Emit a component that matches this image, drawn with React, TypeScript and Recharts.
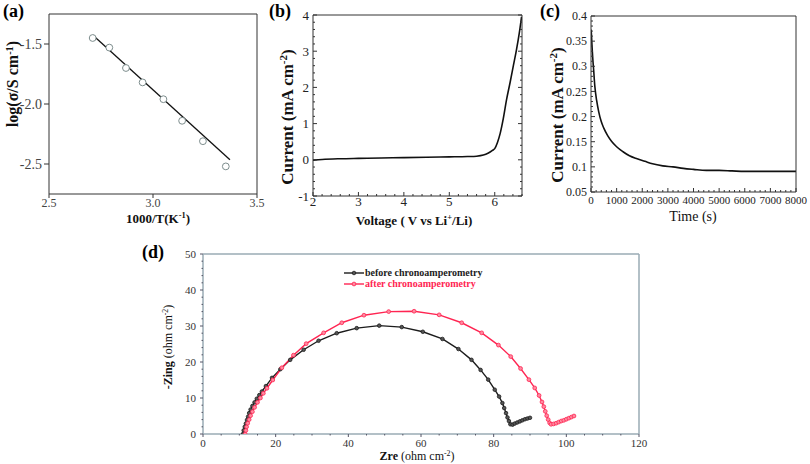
import { LineChart, Line, XAxis, YAxis } from "recharts"

const SERIF = '"Liberation Serif", "Times New Roman", serif'

// (a) log conductivity vs 1000/T
const arrX = [2.71, 2.79, 2.87, 2.95, 3.05, 3.14, 3.24, 3.35]
const arrY = [-1.45, -1.53, -1.7, -1.82, -1.96, -2.14, -2.31, -2.52]
const fitX = [2.71, 3.37]
const fitY = [-1.425, -2.465]

// (b) linear sweep voltammetry
const lsvV = [2.0, 2.2, 2.6, 3.0, 3.5, 4.0, 4.5, 5.0, 5.4, 5.6, 5.75, 5.85, 5.95, 6.0, 6.06, 6.12, 6.19, 6.26, 6.34, 6.41, 6.48, 6.54, 6.59]
const lsvI = [-0.01, 0.01, 0.03, 0.04, 0.05, 0.06, 0.07, 0.08, 0.09, 0.1, 0.13, 0.18, 0.26, 0.31, 0.48, 0.73, 1.15, 1.66, 2.15, 2.6, 3.05, 3.5, 3.95]

// (c) chronoamperometry
const caT = [0, 15, 40, 70, 100, 150, 220, 300, 400, 500, 650, 800, 1000, 1250, 1500, 1800, 2100, 2400, 2800, 3200, 3600, 4000, 4500, 5000, 5500, 6000, 7000, 8000]
const caI = [0.373, 0.365, 0.34, 0.315, 0.295, 0.26, 0.232, 0.21, 0.19, 0.177, 0.162, 0.151, 0.14, 0.13, 0.122, 0.116, 0.111, 0.106, 0.102, 0.1, 0.097, 0.095, 0.093, 0.093, 0.092, 0.091, 0.091, 0.091]

// (d) Nyquist plots
const beforeRe = [11.0, 11.2, 11.5, 11.8, 12.1, 12.4, 12.7, 13.1, 13.6, 14.2, 14.8, 15.5, 16.2, 17.3, 19.0, 21.3, 24.0, 27.7, 31.8, 36.8, 42.3, 48.5, 54.7, 60.5, 65.9, 70.3, 73.9, 76.4, 78.5, 80.3, 81.5, 82.4, 82.9, 83.4, 83.8, 84.2, 84.6, 85.2, 85.8, 86.5, 87.2, 87.9, 88.6, 89.3, 90.0]
const beforeIm = [0.0, 1.0, 2.0, 2.9, 3.9, 4.8, 5.8, 6.8, 7.8, 8.8, 9.8, 10.8, 11.8, 13.3, 15.6, 18.0, 20.6, 23.4, 25.9, 28.0, 29.4, 30.1, 29.7, 28.4, 26.4, 23.6, 20.6, 17.8, 15.1, 12.3, 10.4, 8.6, 7.2, 5.8, 4.6, 3.6, 2.7, 2.6, 2.9, 3.2, 3.5, 3.8, 4.1, 4.3, 4.5]
const afterRe = [11.6, 11.8, 12.0, 12.3, 12.7, 13.1, 13.6, 14.2, 15.0, 15.8, 16.6, 17.6, 19.2, 21.7, 24.9, 28.4, 33.2, 38.2, 44.3, 51.1, 58.1, 65.0, 71.2, 76.7, 81.3, 84.7, 87.4, 89.7, 91.3, 92.5, 93.3, 93.8, 94.2, 94.6, 95.0, 95.4, 95.8, 96.5, 97.2, 97.9, 98.6, 99.3, 100.0, 100.7, 101.4, 102.1]
const afterIm = [0.0, 1.0, 2.0, 3.0, 4.0, 5.1, 6.2, 7.4, 8.8, 10.0, 11.3, 12.7, 15.0, 18.4, 21.9, 25.1, 28.1, 30.9, 33.0, 34.0, 34.1, 33.1, 30.9, 28.1, 24.7, 21.5, 18.2, 15.1, 12.8, 10.7, 8.9, 7.6, 6.3, 5.1, 4.0, 3.1, 2.7, 2.8, 3.0, 3.3, 3.6, 3.8, 4.1, 4.4, 4.7, 5.0]

const pairs = (xs: number[], ys: number[]) => xs.map((x, i) => ({ x, y: ys[i] }))

const steps = (a: number, b: number, st: number) => {
  const out: number[] = []
  for (let v = a; v <= b + st / 1000; v += st) out.push(+v.toFixed(4))
  return out
}

type Side = "left" | "right" | "top" | "bottom"
type TickCfg = {
  side: Side
  majors?: number[]
  big?: number
  small?: number
  out?: boolean
  fmt?: (v: number) => string
  stroke?: string
  color?: string
  size?: number
  gap?: number
}

// draws its own tick marks (major/minor) and labels
function makeTick(c: TickCfg) {
  const majors = c.majors ?? []
  return (props: any) => {
    const { x, y, payload } = props
    const v = Number(payload.value)
    const isMajor = majors.some((m) => Math.abs(m - v) < 1e-6)
    const len = isMajor ? c.big ?? 0 : c.small ?? 0
    const s = c.out ? -1 : 1
    const ix = c.side === "left" ? s : c.side === "right" ? -s : 0
    const iy = c.side === "top" ? s : c.side === "bottom" ? -s : 0
    const ext = c.out ? len : 0
    const gap = c.gap ?? 3
    let label = null
    if (isMajor && c.fmt) {
      const common = { fill: c.color ?? "#222", fontSize: c.size ?? 12, fontFamily: "Liberation Serif", style: { fontFamily: SERIF } }
      if (c.side === "left") {
        label = (
          <text x={x - ext - gap} y={y} dy="0.35em" textAnchor="end" {...common}>
            {c.fmt(v)}
          </text>
        )
      } else if (c.side === "bottom") {
        label = (
          <text x={x} y={y + ext + gap} dy="0.75em" textAnchor="middle" {...common}>
            {c.fmt(v)}
          </text>
        )
      }
    }
    return (
      <g>
        {len > 0 && <line x1={x} y1={y} x2={x + ix * len} y2={y + iy * len} stroke={c.stroke ?? "#333"} strokeWidth={1} />}
        {label}
      </g>
    )
  }
}

const abs: React.CSSProperties = { position: "absolute" }

function VTitle({ x, y, size, children, bold = true }: any) {
  return (
    <div
      style={{
        ...abs,
        left: x,
        top: y,
        transform: "translate(-50%, -50%) rotate(-90deg)",
        whiteSpace: "nowrap",
        fontSize: size,
        fontWeight: bold ? "bold" : "normal",
        lineHeight: 1,
        color: "#111",
      }}
    >
      {children}
    </div>
  )
}

function HTitle({ x, y, size, children, bold = true }: any) {
  return (
    <div
      style={{
        ...abs,
        left: x,
        top: y,
        transform: "translate(-50%, -50%)",
        whiteSpace: "nowrap",
        fontSize: size,
        fontWeight: bold ? "bold" : "normal",
        lineHeight: 1,
        color: "#111",
      }}
    >
      {children}
    </div>
  )
}

const sup: React.CSSProperties = { fontSize: "0.65em", verticalAlign: "0.55em" }
const letter: React.CSSProperties = { ...abs, top: 2, fontSize: 18, fontWeight: "bold", lineHeight: 1 }

const fmt1 = (v: number) => v.toFixed(1)
const fmtN = (v: number) => String(+v.toFixed(2))

export default function App() {
  const bY = steps(-1, 4, 0.2)
  const bYM = steps(-1, 4, 1)
  const bX = steps(2, 6.6, 0.2)
  const bXM = steps(2, 6, 1)
  const cY = steps(0.05, 0.4, 0.01)
  const cYM = steps(0.05, 0.4, 0.05)
  const cX = steps(0, 8000, 200)
  const cXM = steps(0, 8000, 1000)
  const dY = steps(0, 50, 2)
  const dYM = steps(0, 50, 10)
  const dX = steps(0, 120, 5)
  const dXM = steps(0, 120, 20)
  const dAxis = "#9aabb5"

  return (
    <div style={{ ...abs, left: 0, top: 0, width: 810, height: 464, background: "#fff", fontFamily: SERIF, overflow: "hidden" }}>
      {/* (a) */}
      <div style={{ ...abs, left: 0, top: 0 }}>
        <LineChart width={270} height={230} margin={{ top: 13, right: 12, bottom: 16, left: 9 }}>
          <XAxis xAxisId={0} type="number" dataKey="x" domain={[2.5, 3.5]} ticks={[2.5, 3, 3.5]} interval={0} height={20} tickSize={0} tickMargin={0} tickLine={false} stroke="#333" allowDataOverflow
            tick={makeTick({ side: "bottom", majors: [2.5, 3, 3.5], big: 4, out: true, fmt: fmt1, color: "#444", size: 12, gap: 0 })} />
          <XAxis xAxisId="t" orientation="top" type="number" domain={[2.5, 3.5]} ticks={[2.5, 3, 3.5]} interval={0} height={1} tickSize={0} tickMargin={0} tickLine={false} stroke="#333" allowDataOverflow
            tick={makeTick({ side: "top" })} />
          <YAxis yAxisId={0} type="number" dataKey="y" domain={[-2.75, -1.25]} ticks={[-2.5, -2, -1.5]} interval={0} width={40} tickSize={0} tickMargin={0} tickLine={false} stroke="#333" allowDataOverflow
            tick={makeTick({ side: "left", majors: [-2.5, -2, -1.5], big: 5, out: true, fmt: fmt1, color: "#444", size: 14, gap: 2 })} />
          <YAxis yAxisId="r" orientation="right" type="number" domain={[-2.75, -1.25]} ticks={[-2.5, -2, -1.5]} interval={0} width={1} tickSize={0} tickMargin={0} tickLine={false} stroke="#333" allowDataOverflow
            tick={makeTick({ side: "right" })} />
          <Line data={pairs(fitX, fitY)} dataKey="y" type="linear" stroke="#111" strokeWidth={1.3} dot={false} isAnimationActive={false} />
          <Line data={pairs(arrX, arrY)} dataKey="y" type="linear" stroke="none" dot={{ r: 3.4, fill: "#fff", stroke: "#7d8d8d", strokeWidth: 1 }} isAnimationActive={false} />
        </LineChart>
      </div>

      {/* (b) */}
      <div style={{ ...abs, left: 260, top: 0 }}>
        <LineChart width={275} height={230} margin={{ top: 14, right: 12, bottom: 14, left: 23 }}>
          <XAxis xAxisId={0} type="number" dataKey="x" domain={[2, 6.6]} ticks={bX} interval={0} height={20} tickSize={0} tickMargin={0} tickLine={false} stroke="#333" allowDataOverflow
            tick={makeTick({ side: "bottom", majors: bXM, big: 4, small: 2, fmt: fmtN, size: 13, gap: 0 })} />
          <XAxis xAxisId="t" orientation="top" type="number" domain={[2, 6.6]} ticks={bX} interval={0} height={1} tickSize={0} tickMargin={0} tickLine={false} stroke="#333" allowDataOverflow
            tick={makeTick({ side: "top", majors: bXM, big: 4, small: 2 })} />
          <YAxis yAxisId={0} type="number" dataKey="y" domain={[-1, 4]} ticks={bY} interval={0} width={30} tickSize={0} tickMargin={0} tickLine={false} stroke="#333" allowDataOverflow
            tick={makeTick({ side: "left", majors: bYM, big: 4, small: 2, fmt: fmtN, size: 13, gap: 4 })} />
          <YAxis yAxisId="r" orientation="right" type="number" domain={[-1, 4]} ticks={bY} interval={0} width={1} tickSize={0} tickMargin={0} tickLine={false} stroke="#333" allowDataOverflow
            tick={makeTick({ side: "right", majors: bYM, big: 4, small: 2 })} />
          <Line data={pairs(lsvV, lsvI)} dataKey="y" type="monotone" stroke="#111" strokeWidth={1.6} dot={false} isAnimationActive={false} />
        </LineChart>
      </div>

      {/* (c) */}
      <div style={{ ...abs, left: 535, top: 0 }}>
        <LineChart width={275} height={230} margin={{ top: 15, right: 13, bottom: 18, left: 16 }}>
          <XAxis xAxisId={0} type="number" dataKey="x" domain={[0, 8000]} ticks={cX} interval={0} height={20} tickSize={0} tickMargin={0} tickLine={false} stroke="#333" allowDataOverflow
            tick={makeTick({ side: "bottom", majors: cXM, big: 4, small: 2, fmt: fmtN, size: 11, gap: 4 })} />
          <XAxis xAxisId="t" orientation="top" type="number" domain={[0, 8000]} ticks={cXM} interval={0} height={1} tickSize={0} tickMargin={0} tickLine={false} stroke="#333" allowDataOverflow
            tick={makeTick({ side: "top" })} />
          <YAxis yAxisId={0} type="number" dataKey="y" domain={[0.05, 0.4]} ticks={cY} interval={0} width={40} tickSize={0} tickMargin={0} tickLine={false} stroke="#333" allowDataOverflow
            tick={makeTick({ side: "left", majors: cYM, big: 4, small: 2, fmt: fmtN, size: 12, gap: 4 })} />
          <YAxis yAxisId="r" orientation="right" type="number" domain={[0.05, 0.4]} ticks={cYM} interval={0} width={1} tickSize={0} tickMargin={0} tickLine={false} stroke="#333" allowDataOverflow
            tick={makeTick({ side: "right" })} />
          <Line data={pairs(caT, caI)} dataKey="y" type="monotone" stroke="#111" strokeWidth={1.6} dot={false} isAnimationActive={false} />
        </LineChart>
      </div>

      {/* (d) */}
      <div style={{ ...abs, left: 120, top: 236 }}>
        <LineChart width={530} height={228} margin={{ top: 17, right: 10, bottom: 10, left: 53 }}>
          <XAxis xAxisId={0} type="number" dataKey="x" domain={[0, 120]} ticks={dX} interval={0} height={20} tickSize={0} tickMargin={0} tickLine={false} stroke={dAxis} strokeWidth={1.5} allowDataOverflow
            tick={makeTick({ side: "bottom", majors: dXM, big: 3, small: 1.5, out: true, fmt: fmtN, stroke: "#556", color: "#333", size: 11, gap: 2 })} />
          <XAxis xAxisId="t" orientation="top" type="number" domain={[0, 120]} ticks={dXM} interval={0} height={1} tickSize={0} tickMargin={0} tickLine={false} stroke={dAxis} strokeWidth={1.5} allowDataOverflow
            tick={makeTick({ side: "top" })} />
          <YAxis yAxisId={0} type="number" dataKey="y" domain={[0, 50]} ticks={dY} interval={0} width={30} tickSize={0} tickMargin={0} tickLine={false} stroke={dAxis} strokeWidth={1.5} allowDataOverflow
            tick={makeTick({ side: "left", majors: dYM, big: 3, small: 1.5, out: true, fmt: fmtN, stroke: "#556", color: "#333", size: 11, gap: 4 })} />
          <YAxis yAxisId="r" orientation="right" type="number" domain={[0, 50]} ticks={dYM} interval={0} width={1} tickSize={0} tickMargin={0} tickLine={false} stroke={dAxis} strokeWidth={1.5} allowDataOverflow
            tick={makeTick({ side: "right" })} />
          <Line data={pairs(beforeRe, beforeIm)} dataKey="y" name="before chronoamperometry" type="linear" stroke="#1c1c1c" strokeWidth={1.4}
            dot={{ r: 1.8, fill: "#555", stroke: "#1c1c1c", strokeWidth: 0.8 }} isAnimationActive={false} />
          <Line data={pairs(afterRe, afterIm)} dataKey="y" name="after chronoamperometry" type="linear" stroke="#ff2552" strokeWidth={1.4}
            dot={{ r: 1.9, fill: "#ff8aa0", stroke: "#ff2552", strokeWidth: 0.8 }} isAnimationActive={false} />
        </LineChart>
      </div>

      {/* legend of (d) */}
      <div style={{ ...abs, left: 344, top: 267, fontSize: 10, fontWeight: "bold", lineHeight: "11px", whiteSpace: "nowrap" }}>
        <div style={{ display: "flex", alignItems: "center", color: "#1c1c1c" }}>
          <svg width={20} height={8} style={{ marginRight: 1 }}>
            <line x1={0} y1={4} x2={20} y2={4} stroke="#1c1c1c" strokeWidth={1.4} />
            <circle cx={10} cy={4} r={1.8} fill="#555" stroke="#1c1c1c" strokeWidth={0.8} />
          </svg>
          before chronoamperometry
        </div>
        <div style={{ display: "flex", alignItems: "center", color: "#ff2552" }}>
          <svg width={20} height={8} style={{ marginRight: 1 }}>
            <line x1={0} y1={4} x2={20} y2={4} stroke="#ff2552" strokeWidth={1.4} />
            <circle cx={10} cy={4} r={1.9} fill="#ff8aa0" stroke="#ff2552" strokeWidth={0.8} />
          </svg>
          after chronoamperometry
        </div>
      </div>

      {/* panel letters */}
      <div style={{ ...letter, left: 3 }}>(a)</div>
      <div style={{ ...letter, left: 269 }}>(b)</div>
      <div style={{ ...letter, left: 540 }}>(c)</div>
      <div style={{ ...letter, left: 142, top: 243 }}>(d)</div>

      {/* axis titles */}
      <VTitle x={13} y={84} size={16}>log(σ/S cm<span style={sup}>-1</span>)</VTitle>
      <HTitle x={158} y={218} size={13}>1000/T(K<span style={sup}>-1</span>)</HTitle>
      <VTitle x={287} y={117} size={17}>Current (mA cm<span style={sup}>-2</span>)</VTitle>
      <HTitle x={414} y={220} size={13}>Voltage ( V vs Li<span style={sup}>+</span>/Li)</HTitle>
      <VTitle x={557} y={115} size={17}>Current (mA cm<span style={sup}>-2</span>)</VTitle>
      <HTitle x={693} y={217} size={14} bold={false}>Time (s)</HTitle>
      <VTitle x={168} y={347} size={12}>-Zing <span style={{ fontWeight: "normal" }}>(ohm cm<span style={sup}>-2</span>)</span></VTitle>
      <HTitle x={417} y={456} size={12}>Zre <span style={{ fontWeight: "normal" }}>(ohm cm<span style={sup}>-2</span>)</span></HTitle>
    </div>
  )
}
